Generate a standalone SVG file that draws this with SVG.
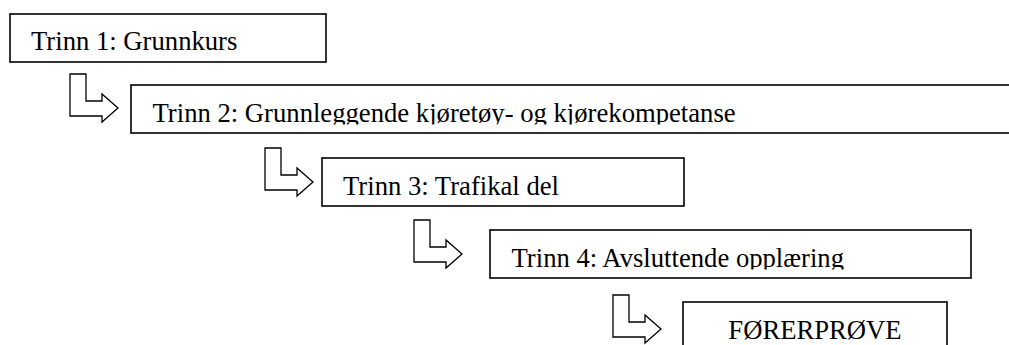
<svg xmlns="http://www.w3.org/2000/svg" width="1009" height="345" viewBox="0 0 1009 345">
<style>
.box{fill:#fff;stroke:#000;stroke-width:1.6}
.arr{fill:#fff;stroke:#000;stroke-width:1.3;stroke-linejoin:miter}
.t{font-family:"Liberation Serif","Times New Roman",serif;font-size:26.67px;fill:#000}
</style>
<defs>
<path id="larrow" class="arr" d="M0,0 H16 V27 H32 V20 L48,34 L32,48 V42 H0 Z"/>
<clipPath id="c2"><rect x="131" y="85" width="900" height="39.5"/></clipPath>
<clipPath id="c4"><rect x="490" y="230" width="481" height="39.5"/></clipPath>
</defs>
<rect width="1009" height="345" fill="#fff"/>
<g id="connectors">
<use href="#larrow" x="70" y="74"/>
<use href="#larrow" x="265" y="148"/>
<use href="#larrow" x="414" y="220"/>
<use href="#larrow" x="613" y="295"/>
</g>
<g id="step1">
<rect class="box" x="10" y="14" width="316" height="48"/>
<text class="t" x="31" y="50">Trinn 1: Grunnkurs</text>
</g>
<g id="step2">
<rect class="box" x="131" y="85" width="900" height="48"/>
<text class="t" x="152.5" y="122" clip-path="url(#c2)">Trinn 2: Grunnleggende kjøretøy- og kjørekompetanse</text>
</g>
<g id="step3">
<rect class="box" x="322" y="158" width="362" height="48"/>
<text class="t" x="343" y="195">Trinn 3: Trafikal del</text>
</g>
<g id="step4">
<rect class="box" x="490" y="230" width="481" height="48"/>
<text class="t" x="511.5" y="267" clip-path="url(#c4)">Trinn 4: Avsluttende opplæring</text>
</g>
<g id="exam">
<rect class="box" x="683" y="302" width="264" height="48"/>
<text class="t" x="815" y="339" text-anchor="middle">FØRERPRØVE</text>
</g>
</svg>
